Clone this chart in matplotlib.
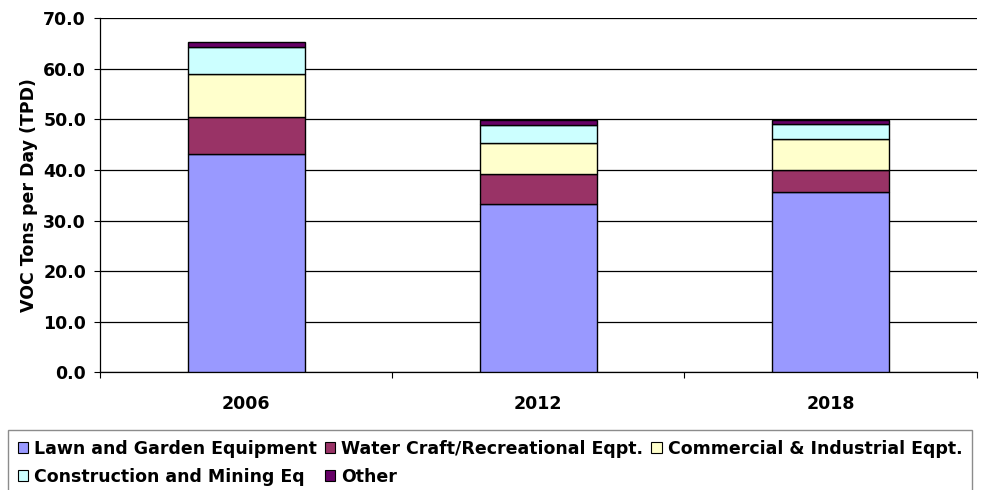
import matplotlib
matplotlib.use("Agg")
import matplotlib.pyplot as plt
import numpy as np

plt.rcParams['font.family'] = ['DejaVu Sans']
plt.rcParams['font.weight'] = 'bold'

years = ["2006", "2012", "2018"]
categories = [
    "Lawn and Garden Equipment",
    "Water Craft/Recreational Eqpt.",
    "Commercial & Industrial Eqpt.",
    "Construction and Mining Eq",
    "Other",
]
lawn = [43.1, 33.2, 35.6]
water = [7.3, 6.0, 4.4]
commercial = [8.6, 6.1, 6.1]
construction = [5.3, 3.6, 3.0]
other = [1.0, 0.9, 0.7]
series = [lawn, water, commercial, construction, other]
colors = ["#9999FF", "#993366", "#FFFFCC", "#CCFFFF", "#660066"]
yticks = [0, 10, 20, 30, 40, 50, 60, 70]

FS = 12.5

fig = plt.figure(figsize=(9.81, 4.90), dpi=100)
ax = fig.add_axes([100 / 981, 1 - 372.3 / 490, 876.7 / 981, 354.0 / 490])

x = np.arange(len(years))
bottom = np.zeros(len(years))
handles = []
for vals, col, name in zip(series, colors, categories):
    h = ax.bar(x, vals, width=0.4, bottom=bottom, color=col,
               edgecolor="black", linewidth=1.0, label=name, zorder=3)
    handles.append(h)
    bottom += np.array(vals)

ax.set_xlim(-0.5, len(years) - 0.5)
ax.set_ylim(0, 70)
ax.set_yticks(yticks)
ax.set_yticklabels([f"{v:.1f}" for v in yticks], fontsize=FS, fontweight="bold")
ax.yaxis.grid(True, color="black", linewidth=0.9, zorder=0)
ax.set_axisbelow(True)

ax.set_xticks(x)
ax.set_xticklabels(years, fontsize=FS, fontweight="bold")
ax.tick_params(axis="x", which="major", length=0, pad=16)
ax.set_xticks(np.arange(len(years) + 1) - 0.5, minor=True)
ax.tick_params(axis="x", which="minor", length=4, width=0.8, direction="out")
ax.tick_params(axis="y", length=4, width=0.8, direction="out", pad=6)

for side in ("top", "right"):
    ax.spines[side].set_visible(False)
for side in ("left", "bottom"):
    ax.spines[side].set_color("black")
    ax.spines[side].set_linewidth(0.9)

ax.set_ylabel("VOC Tons per Day (TPD)", fontsize=FS, fontweight="bold", labelpad=4)

# legend filled row by row: reorder for matplotlib's column-major layout
order = [0, 3, 1, 4, 2]
leg = fig.legend(handles=[handles[i] for i in order],
                 labels=[categories[i] for i in order], ncol=3,
                 loc="upper left",
                 bbox_to_anchor=(8 / 981, 1 - 430 / 490, 964 / 981, 0.0),
                 mode="expand", frameon=True, fancybox=False,
                 edgecolor="#707070", handlelength=0.6, handleheight=0.6,
                 handletextpad=0.35, columnspacing=0.5, borderpad=0.55,
                 labelspacing=0.6, borderaxespad=0.0,
                 prop={"weight": "bold", "size": FS})
leg.get_frame().set_linewidth(1.0)
for p in leg.get_patches():
    p.set_edgecolor("black")
    p.set_linewidth(0.8)

fig.savefig("out.png", dpi=100)
